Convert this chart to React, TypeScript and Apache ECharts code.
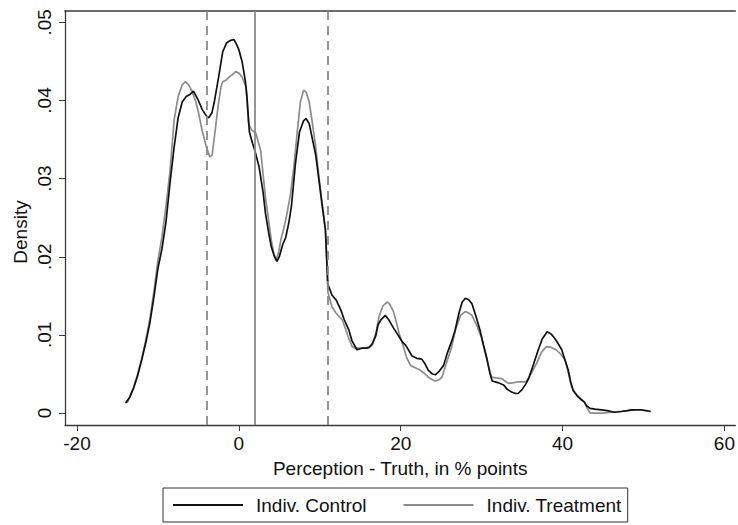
import React, { useEffect, useRef } from "react";
import * as echarts from "echarts";

// ---- data ----
const xTicks = [-20, 0, 20, 40, 60];
const yTicks = [0, 0.01, 0.02, 0.03, 0.04, 0.05];
const yTickLabels = ["0", ".01", ".02", ".03", ".04", ".05"];
const seriesNames = ["Indiv. Control", "Indiv. Treatment"];
const refLineX = [-4, 2, 11];
const refLineKind = ["dashed", "solid", "dashed"];

const controlX = [
  -14.0, -13.5, -13.0, -12.5, -12.0, -11.5, -11.0, -10.5, -10.0, -9.5, -9.0, -8.5, -8.0, -7.5, -7.0, -6.5, -6.0, -5.6, -5.0, -4.5,
  -4.0, -3.7, -3.3, -3.0, -2.5, -2.0, -1.5, -1.0, -0.6, -0.3, 0.0, 0.4, 0.8, 1.0, 1.3, 1.7, 2.0, 2.5, 3.0, 3.3,
  3.7, 4.0, 4.4, 4.7, 5.0, 5.4, 5.8, 6.2, 6.5, 7.0, 7.5, 8.0, 8.3, 8.7, 9.0, 9.5, 9.9, 10.3, 10.7, 11.0,
  11.5, 12.0, 12.6, 13.0, 13.6, 14.0, 14.6, 15.2, 15.7, 16.1, 16.5, 16.9, 17.2, 17.6, 18.1, 18.6, 19.1, 19.6, 20.2, 20.6,
  21.0, 21.4, 22.0, 22.6, 23.0, 23.4, 23.9, 24.3, 24.8, 25.3, 25.8, 26.3, 26.7, 27.2, 27.6, 28.0, 28.4, 28.8, 29.3, 29.8,
  30.2, 30.6, 31.0, 31.3, 32.0, 32.7, 33.2, 33.7, 34.2, 34.5, 35.0, 35.5, 35.8, 36.4, 37.0, 37.5, 38.1, 38.6, 39.0, 39.5,
  39.9, 40.3, 40.7, 41.0, 41.3, 41.8, 42.3, 42.7, 43.0, 43.4, 44.0, 44.8, 45.5, 46.4, 47.3, 48.0, 48.5, 49.2, 49.7, 50.3, 50.9,
];
const controlY = [
  0.0013, 0.002, 0.0032, 0.0048, 0.0068, 0.009, 0.0115, 0.0148, 0.0185, 0.021, 0.0245, 0.0295, 0.034, 0.0378, 0.0398, 0.0405, 0.0408, 0.0412, 0.04, 0.0388,
  0.038, 0.0378, 0.0385, 0.04, 0.043, 0.0462, 0.0474, 0.0477, 0.0478, 0.0472, 0.0465, 0.045, 0.0425, 0.0405, 0.036, 0.0345, 0.0335, 0.0315, 0.0282, 0.0255,
  0.023, 0.0213, 0.02, 0.0194, 0.02, 0.0215, 0.0225, 0.0245, 0.0265, 0.032, 0.036, 0.0374, 0.0377, 0.037, 0.0355, 0.033, 0.0298, 0.0265, 0.0234, 0.0165,
  0.0151, 0.0145, 0.0132, 0.012, 0.0106, 0.0092, 0.0081, 0.0083, 0.0083, 0.0084, 0.0089, 0.0098, 0.0113, 0.012, 0.0125, 0.0118, 0.0109, 0.0101, 0.0091, 0.0087,
  0.008, 0.0073, 0.007, 0.0069, 0.0063, 0.0055, 0.005, 0.0049, 0.0054, 0.0061, 0.0078, 0.0092, 0.0105, 0.0128, 0.0142, 0.0147, 0.0145, 0.014, 0.0124, 0.0106,
  0.0088, 0.0072, 0.0052, 0.0041, 0.0039, 0.0036, 0.003, 0.0027, 0.0025, 0.0025, 0.003, 0.0038, 0.0044, 0.0062, 0.0081, 0.0095, 0.0104, 0.0101, 0.0096, 0.0088,
  0.0081, 0.0068, 0.0055, 0.004, 0.0029, 0.0022, 0.0017, 0.0014, 0.0009, 0.0006, 0.0005, 0.0004, 0.0003, 0.0001, 0.0002, 0.0003, 0.0004, 0.0004, 0.0004, 0.0003, 0.0002,
];

const treatX = [
  -13.8, -13.5, -13.0, -12.5, -12.0, -11.5, -11.0, -10.5, -10.0, -9.5, -9.0, -8.5, -8.0, -7.5, -7.0, -6.6, -6.2, -5.8, -5.3, -5.0,
  -4.5, -4.0, -3.6, -3.3, -3.0, -2.6, -2.2, -2.0, -1.6, -1.2, -0.8, -0.4, 0.0, 0.4, 0.9, 1.2, 1.6, 2.1, 2.7, 3.0,
  3.3, 3.7, 4.0, 4.3, 4.6, 4.9, 5.2, 5.6, 6.0, 6.4, 6.8, 7.2, 7.6, 8.0, 8.3, 8.7, 9.1, 9.5, 9.9, 10.3,
  10.7, 11.0, 11.5, 12.0, 12.8, 13.5, 14.0, 14.4, 15.0, 15.7, 16.1, 16.5, 17.0, 17.3, 17.8, 18.3, 18.6, 19.1, 19.5, 19.8,
  20.2, 20.7, 21.2, 21.8, 22.4, 23.0, 23.4, 24.0, 24.3, 24.8, 25.1, 25.6, 26.3, 26.8, 27.4, 28.0, 28.4, 28.8, 29.4, 30.0,
  30.6, 31.2, 31.8, 32.5, 33.0, 33.3, 34.0, 34.5, 35.5, 36.2, 36.8, 37.4, 38.0, 38.6, 39.2, 39.8, 40.3, 40.7, 41.1, 41.6,
  42.2, 42.7, 43.0, 43.4, 44.0, 45.0, 46.0, 47.0, 48.0, 48.9,
];
const treatY = [
  0.0013, 0.002, 0.0033, 0.005, 0.007, 0.0093, 0.012, 0.0155, 0.0195, 0.0225, 0.0265, 0.031, 0.0375, 0.0405, 0.042, 0.0424, 0.042, 0.0412, 0.0398, 0.0385,
  0.036, 0.034, 0.0328, 0.033, 0.0355, 0.039, 0.0418, 0.0424, 0.0426, 0.043, 0.0433, 0.0437, 0.0435, 0.043, 0.0417, 0.037, 0.0362, 0.0358, 0.0336, 0.0305,
  0.0275, 0.0245, 0.0222, 0.0205, 0.0196, 0.0205, 0.0222, 0.0238, 0.0258, 0.0281, 0.0315, 0.0358, 0.0398, 0.0413, 0.0411, 0.0398, 0.037, 0.034, 0.0302, 0.0268,
  0.0234, 0.0155, 0.0136, 0.0128, 0.0119, 0.0098, 0.0085, 0.0083, 0.0083, 0.0083, 0.0084, 0.0087, 0.0105, 0.0123, 0.0137, 0.0142, 0.014, 0.013, 0.0115, 0.0102,
  0.009, 0.0072, 0.0061, 0.0058, 0.0055, 0.005, 0.0046, 0.0042, 0.0041, 0.0043, 0.0046, 0.0062, 0.0085, 0.0108, 0.0125, 0.013, 0.0128, 0.0125, 0.0112, 0.0096,
  0.007, 0.0046, 0.0045, 0.0044, 0.004, 0.0038, 0.0039, 0.004, 0.004, 0.0052, 0.0064, 0.0078, 0.0085, 0.0084, 0.0081, 0.0075, 0.0068, 0.0052, 0.0034, 0.0025,
  0.0019, 0.0014, 0.0007, 0.0, 0.0, 0.0, 0.0001, 0.0002, 0.0003, 0.0004,
];

const pair = (xs: number[], ys: number[]) => xs.map((x, i) => [x, ys[i]]);

const FONT = "Liberation Sans, Arial, Helvetica, sans-serif";
const AXIS_COLOR = "#3a3a3a";

export default function App() {
  const ref = useRef<HTMLDivElement>(null);

  useEffect(() => {
    if (!ref.current) return;
    const chart = echarts.init(ref.current, null, { renderer: "svg" });
    const xMin = -21.48;
    const xMax = 61.35;
    const yMin = -0.00153;
    const yMax = 0.05145;

    const option: any = {
      animation: false,
      backgroundColor: "#ffffff",
      textStyle: { fontFamily: FONT },
      grid: { left: 65, top: 11, right: 0, bottom: 100, containLabel: false },
      legend: {
        data: seriesNames,
        left: 163,
        top: 488,
        orient: "horizontal",
        itemWidth: 70,
        itemHeight: 18,
        itemGap: 36,
        padding: [7, 6, 7, 9],
        borderColor: "#333",
        borderWidth: 1,
        itemStyle: { opacity: 0 },
        textStyle: { fontSize: 19, lineHeight: 20, color: "#111", fontFamily: FONT, padding: [0, 0, 0, 8] },
      },
      graphic: [
        {
          type: "text",
          x: 20,
          y: 232,
          rotation: Math.PI / 2,
          silent: true,
          style: {
            text: "Density",
            fontSize: 19,
            fontFamily: FONT,
            fill: "#111",
            align: "center",
            verticalAlign: "middle",
          },
        },
      ],
      xAxis: [
        {
          type: "value",
          min: xMin,
          max: xMax,
          name: "Perception - Truth, in % points",
          nameLocation: "middle",
          nameGap: 34,
          nameTextStyle: { fontSize: 19, color: "#111", fontFamily: FONT },
          axisLine: { show: true, onZero: false, lineStyle: { color: AXIS_COLOR, width: 1.3 } },
          axisTick: { show: true, length: 6, customValues: xTicks, lineStyle: { color: AXIS_COLOR, width: 1 } },
          axisLabel: {
            customValues: xTicks,
            fontSize: 19,
            color: "#111",
            fontFamily: FONT,
            margin: 9,
            hideOverlap: false,
            formatter: (v: number) => String(v),
          },
          splitLine: { show: false },
        },
        {
          type: "value",
          position: "top",
          min: xMin,
          max: xMax,
          axisLine: { show: true, onZero: false, lineStyle: { color: AXIS_COLOR, width: 1.6 } },
          axisTick: { show: false },
          axisLabel: { show: false },
          splitLine: { show: false },
        },
      ],
      yAxis: {
        type: "value",
        min: yMin,
        max: yMax,
        axisLine: { show: true, onZero: false, lineStyle: { color: AXIS_COLOR, width: 1.3 } },
        axisTick: { show: true, length: 6, customValues: yTicks, lineStyle: { color: AXIS_COLOR, width: 1 } },
        axisLabel: {
          customValues: yTicks,
          rotate: 90,
          fontSize: 19,
          color: "#111",
          fontFamily: FONT,
          margin: 11,
          formatter: (v: number) => {
            const i = yTicks.findIndex((t) => Math.abs(t - v) < 1e-9);
            return i >= 0 ? yTickLabels[i] : "";
          },
        },
        splitLine: { show: false },
      },
      series: [
        {
          name: seriesNames[1],
          type: "line",
          data: pair(treatX, treatY),
          symbol: "none",
          showSymbol: false,
          lineStyle: { color: "#8c8c8c", width: 1.7 },
          itemStyle: { color: "#8c8c8c" },
          z: 3,
          markLine: {
            silent: true,
            symbol: ["none", "none"],
            label: { show: false },
            animation: false,
            data: refLineX.map((x, i) => ({
              xAxis: x,
              lineStyle: {
                color: "#8a8a8a",
                width: 1.8,
                type: refLineKind[i] === "dashed" ? [9, 6] : "solid",
              },
            })),
          },
        },
        {
          name: seriesNames[0],
          type: "line",
          data: pair(controlX, controlY),
          symbol: "none",
          showSymbol: false,
          lineStyle: { color: "#111111", width: 1.7 },
          itemStyle: { color: "#111111" },
          z: 4,
        },
      ],
    };

    chart.setOption(option);
    return () => chart.dispose();
  }, []);

  return (
    <div
      ref={ref}
      style={{ position: "fixed", left: 0, top: 0, width: 738, height: 525, background: "#fff" }}
    />
  );
}
